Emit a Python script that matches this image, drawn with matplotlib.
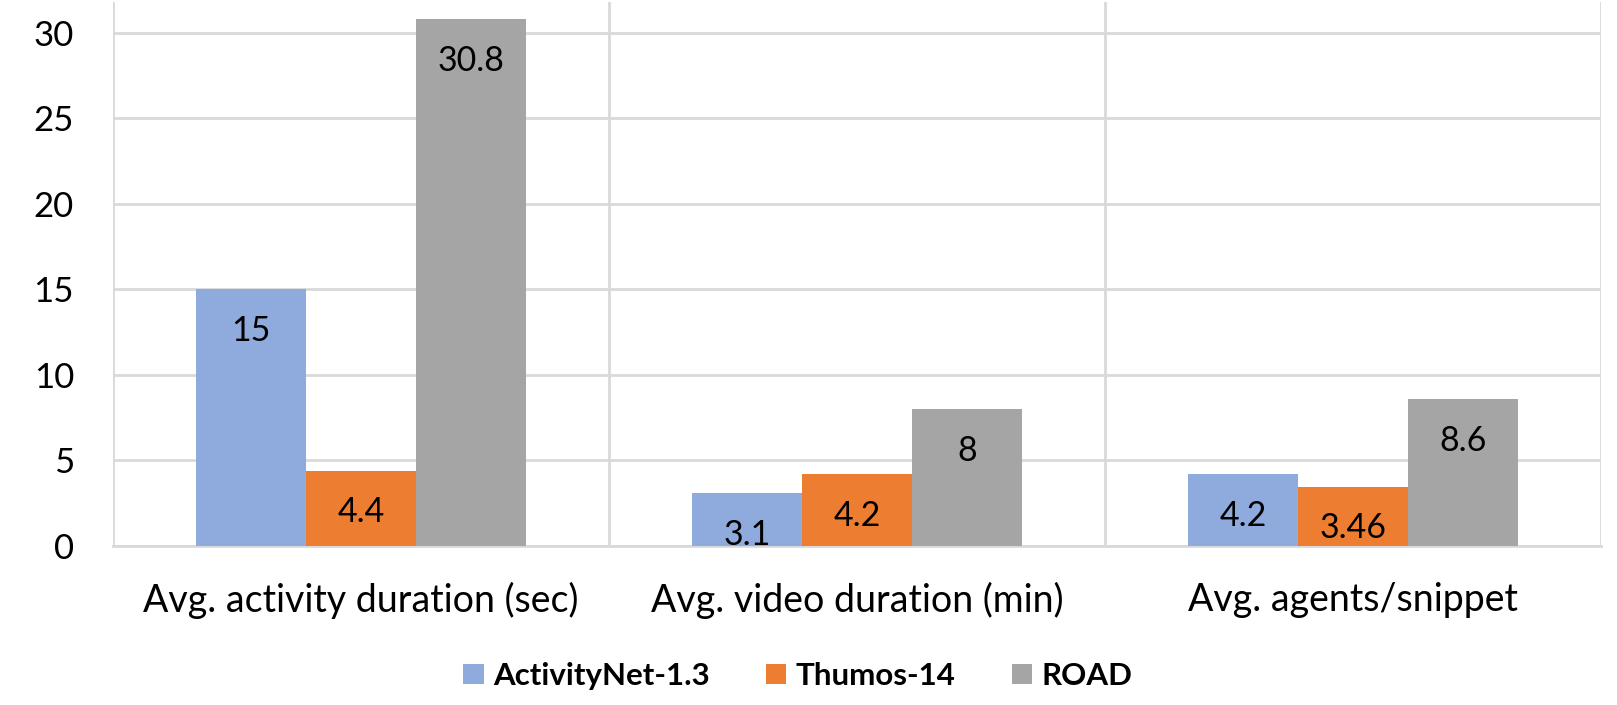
import matplotlib
matplotlib.use("Agg")
import matplotlib.pyplot as plt
import numpy as np

# ── data ──────────────────────────────────────────────────────────────────────
categories = [
    "Avg. activity duration (sec)",
    "Avg. video duration (min)",
    "Avg. agents/snippet",
]
series_names = ["ActivityNet-1.3", "Thumos-14", "ROAD"]
activitynet = [15, 3.1, 4.2]
thumos = [4.4, 4.2, 3.46]
road = [30.8, 8, 8.6]
value_labels = [
    ["15", "3.1", "4.2"],
    ["4.4", "4.2", "3.46"],
    ["30.8", "8", "8.6"],
]
yticks = [0, 5, 10, 15, 20, 25, 30]

COLORS = ["#8FAADC", "#ED7D31", "#A5A5A5"]
GRID = "#D9D9D9"

plt.rcParams["font.family"] = ["Lato", "DejaVu Sans"]

fig = plt.figure(figsize=(16.17, 7.05), dpi=100)
ax = fig.add_axes([113 / 1617, 1 - 546 / 705, (1601 - 113) / 1617, (546 - 2) / 705])

x = np.arange(len(categories))
bw = 0.222
all_series = [activitynet, thumos, road]
for i, (vals, name, col) in enumerate(zip(all_series, series_names, COLORS)):
    pos = x + (i - 1) * bw
    ax.bar(pos, vals, width=bw, color=col, label=name, zorder=3)
    for xp, v, lab in zip(pos, vals, value_labels[i]):
        ax.annotate(lab, xy=(xp, v), xytext=(0, -30), textcoords="offset points",
                    ha="center", va="center", fontsize=24.5, color="black", zorder=4)

ax.set_xlim(-0.5, 2.5)
ax.set_ylim(0, 31.8)
ax.set_yticks(yticks)
ax.set_xticks(x)
ax.set_xticklabels(categories, fontsize=27)
ax.set_xticks([-0.5, 0.5, 1.5, 2.5], minor=True)
ax.tick_params(axis="y", labelsize=25, length=0, pad=28)
ax.tick_params(axis="x", which="both", length=0, pad=26)

ax.grid(True, axis="y", color=GRID, linewidth=2, zorder=0)
ax.grid(True, axis="x", which="minor", color=GRID, linewidth=2, zorder=0)
ax.grid(False, axis="x", which="major")
for s in ax.spines.values():
    s.set_visible(False)
ax.spines["bottom"].set_visible(True)
ax.spines["bottom"].set_color(GRID)
ax.spines["bottom"].set_linewidth(2)

leg = fig.legend(loc="center", bbox_to_anchor=(798 / 1617, 1 - 676 / 705), ncol=3,
                 frameon=False, prop={"weight": "bold", "size": 22.5},
                 handlelength=0.65, handleheight=0.65, handletextpad=0.3, columnspacing=1.8)

fig.savefig("out.png", dpi=100, facecolor="white")
